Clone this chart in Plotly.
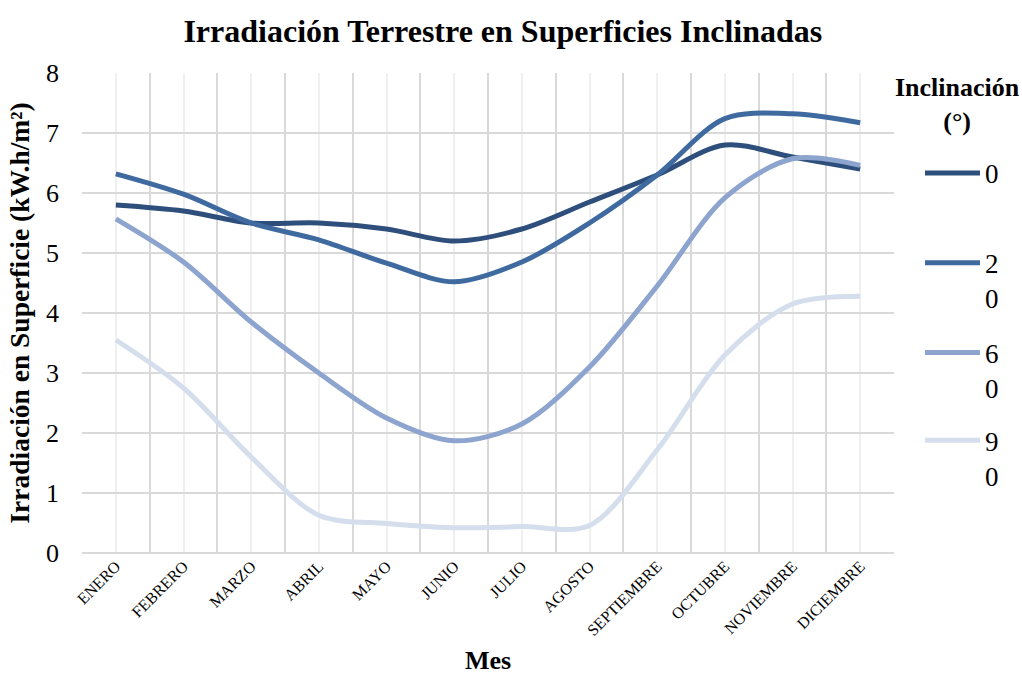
import plotly.graph_objects as go

months = ["ENERO", "FEBRERO", "MARZO", "ABRIL", "MAYO", "JUNIO", "JULIO",
          "AGOSTO", "SEPTIEMBRE", "OCTUBRE", "NOVIEMBRE", "DICIEMBRE"]
inc_0 = [5.80, 5.70, 5.50, 5.50, 5.40, 5.20, 5.40, 5.85, 6.30, 6.80, 6.60, 6.40]
inc_20 = [6.32, 5.98, 5.50, 5.22, 4.83, 4.52, 4.85, 5.50, 6.30, 7.24, 7.32, 7.17]
inc_60 = [5.57, 4.85, 3.85, 3.00, 2.25, 1.87, 2.15, 3.10, 4.45, 5.92, 6.57, 6.46]
inc_90 = [3.55, 2.75, 1.60, 0.63, 0.49, 0.42, 0.44, 0.46, 1.72, 3.30, 4.15, 4.28]
series_names = ["0", "2<br>0", "6<br>0", "9<br>0"]
series_vals = [inc_0, inc_20, inc_60, inc_90]
colors = ["#2E4E7B", "#3F6A9F", "#8CA4CE", "#D5DEEC"]
legend_ids = ["legend", "legend2", "legend3", "legend4"]
legend_y = [0.842, 0.655, 0.468, 0.285]

FONT = "Liberation Serif, Times New Roman, serif"
xs = list(range(len(months)))

fig = go.Figure()
for name, vals, col, lid in zip(series_names, series_vals, colors, legend_ids):
    fig.add_trace(go.Scatter(
        x=xs, y=vals, name=name, mode="lines",
        line=dict(color=col, width=5, shape="spline", smoothing=0.9),
        legend=lid, showlegend=True,
    ))

legend_common = dict(
    x=1.032, xanchor="left", yanchor="top",
    font=dict(size=27, family=FONT, color="black"),
    valign="top", bgcolor="rgba(0,0,0,0)", itemwidth=55,
)
legends = {lid: dict(legend_common, y=ly) for lid, ly in zip(legend_ids, legend_y)}

fig.update_layout(
    width=1022, height=675,
    showlegend=True,
    paper_bgcolor="white", plot_bgcolor="white",
    margin=dict(l=82, r=128, t=73, b=122),
    font=dict(family=FONT, color="black"),
    title=dict(text="<b>Irradiación Terrestre en Superficies Inclinadas</b>",
               x=0.492, xanchor="center", y=0.955, yanchor="middle",
               font=dict(size=32, family=FONT, color="black")),
    xaxis=dict(
        range=[-0.5, len(months) - 0.5],
        tickvals=xs, ticktext=months, tickangle=-45,
        tickfont=dict(size=16, family=FONT),
        showgrid=True, gridcolor="#F0F0F0", gridwidth=1.5,
        minor=dict(tickvals=[v - 0.5 for v in range(len(months) + 1)],
                   showgrid=True, gridcolor="#D9D9D9", gridwidth=1.5,
                   ticklen=0),
        zeroline=False, showline=False, ticks="", automargin=False,
        title=dict(text="<b>Mes</b>", font=dict(size=26, family=FONT), standoff=17),
    ),
    yaxis=dict(
        range=[0, 8], dtick=1,
        tickfont=dict(size=26, family=FONT),
        showgrid=True, gridcolor="#D9D9D9", gridwidth=1.5,
        zeroline=True, zerolinecolor="#D9D9D9", zerolinewidth=1.5,
        showline=False, ticks="", ticklabelstandoff=22, automargin=False,
        title=dict(text="<b>Irradiación en Superficie (kW.h/m²)</b>",
                   font=dict(size=27.5, family=FONT), standoff=8),
    ),
    annotations=[dict(
        text="<b>Inclinación<br>(°)</b>", xref="paper", yref="paper",
        x=1.0776, y=0.935, xanchor="center", yanchor="middle",
        showarrow=False, font=dict(size=26, family=FONT, color="black"),
    )],
    **legends,
)

fig.write_html("out.html", config={"displayModeBar": False},
               post_script="document.body.style.margin='0';document.body.style.padding='0';")
